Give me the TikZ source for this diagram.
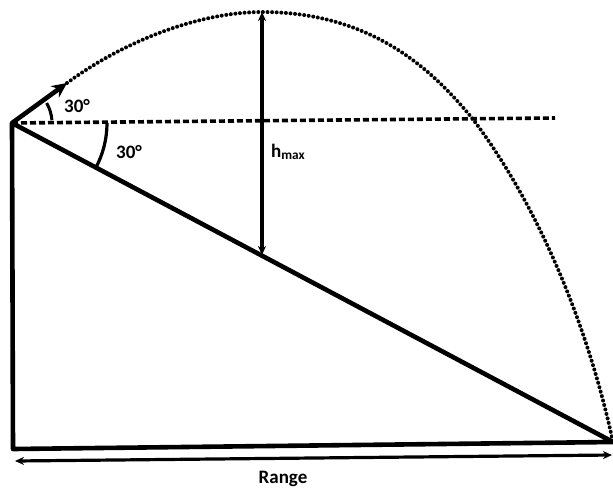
\documentclass[tikz,border=0pt]{standalone}
\usepackage{fontspec}
\setmainfont{Carlito}
\usepackage{tikz}
\usetikzlibrary{arrows.meta}

\begin{document}
\begin{tikzpicture}[x=1pt,y=-1pt,
    thickline/.style={line width=4.6pt,line join=round},
    dimline/.style={line width=3.2pt,{Stealth[length=9pt,width=8pt]}-{Stealth[length=9pt,width=8pt]}},
    lbl/.style={font=\fontsize{19}{22}\selectfont\bfseries,inner sep=0pt}]
    \useasboundingbox (0,0) rectangle (613,488);

    % Key points
    \coordinate (O) at (12,123);
    \coordinate (B) at (13,449);
    \coordinate (R) at (613,442);
    \coordinate (V) at (67,83);
    \coordinate (P) at (262,12);
    \coordinate (Q) at (472,118);
    \coordinate (H) at (262,255);
    \coordinate (D) at (555,118);
    \coordinate (RL) at (15,461);
    \coordinate (RR) at (612,455);

    % Incline
    \draw[thickline] (O) -- (B) -- (R) -- cycle;

    % Horizontal reference
    \draw[line width=3.6pt,dash pattern=on 6pt off 3pt] (O) -- (D);

    % Trajectory
    \draw[line width=4pt,line cap=round,dash pattern=on 0pt off 4.6pt]
        (V) .. controls (127,39) and (202,12) .. (P)
            .. controls (377,12) and (437,76) .. (Q)
            .. controls (527,190) and (583,304) .. (R);

    % Launch velocity
    \draw[line width=4.6pt,-{Stealth[length=15pt,width=14pt]}] (O) -- (V);

    % Angles
    \draw[line width=3pt] ([shift={(-4:40)}]O) arc (-4:-30:40);
    \draw[line width=3.2pt] ([shift={(0:95)}]O) arc (0:28.5:95);

    % Maximum height and range
    \draw[dimline] (H) -- (P);
    \draw[dimline] (RL) -- (RR);

    % Labels
    \node[lbl,anchor=base] (a1) at (77,112) {30°};
    \node[lbl,anchor=base] (a2) at (129,158) {30°};
    \node[lbl,anchor=base west] (hm) at (271,157) {h\textsubscript{max}};
    \node[lbl,anchor=base] (rg) at (283,483) {Range};
\end{tikzpicture}
\end{document}
